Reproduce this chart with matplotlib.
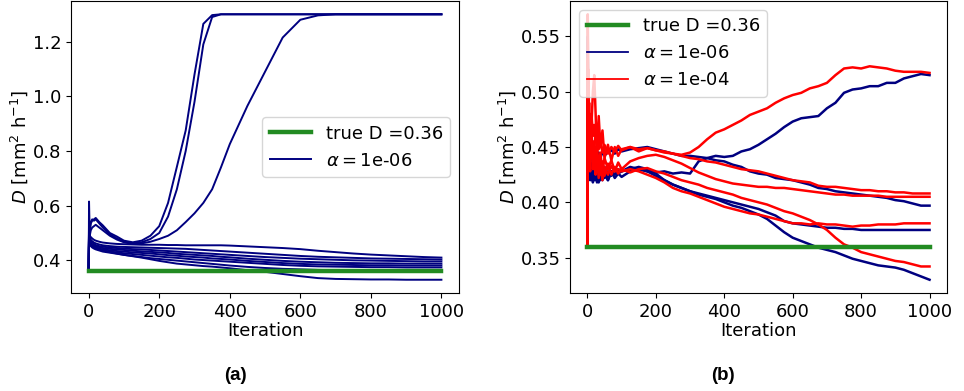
import matplotlib
matplotlib.use("Agg")
import matplotlib.pyplot as plt

# ---------------- data ----------------
true_D = 0.36
alpha_a = "1e-06"
alpha_b = "1e-04"

# panel (a): iterations and D estimates
iter_a = [0, 1, 3, 6, 10, 15, 20, 30, 40, 60, 80, 100, 125, 150, 175, 200, 225, 250,
          275, 300, 325, 350, 375, 400, 450, 500, 550, 600, 650, 700, 750, 800, 850,
          900, 950, 1000]

a_rise1 = [0.36, 0.52, 0.50, 0.535, 0.545, 0.55, 0.555, 0.54, 0.528, 0.50, 0.487, 0.472,
           0.466, 0.472, 0.49, 0.525, 0.61, 0.742, 0.875, 1.08, 1.265, 1.297, 1.30, 1.30,
           1.30, 1.30, 1.30, 1.30, 1.30, 1.30, 1.30, 1.30, 1.30, 1.30, 1.30, 1.30]
a_rise2 = [0.36, 0.55, 0.52, 0.54, 0.55, 0.545, 0.55, 0.535, 0.52, 0.495, 0.48, 0.468,
           0.462, 0.466, 0.478, 0.50, 0.56, 0.66, 0.80, 0.98, 1.19, 1.29, 1.30, 1.30,
           1.30, 1.30, 1.30, 1.30, 1.30, 1.30, 1.30, 1.30, 1.30, 1.30, 1.30, 1.30]
a_rise3 = [0.36, 0.50, 0.49, 0.51, 0.52, 0.525, 0.53, 0.52, 0.51, 0.49, 0.476, 0.466,
           0.46, 0.462, 0.468, 0.478, 0.49, 0.51, 0.54, 0.572, 0.61, 0.66, 0.74, 0.825,
           0.965, 1.09, 1.215, 1.28, 1.296, 1.30, 1.30, 1.30, 1.30, 1.30, 1.30, 1.30]
a_low1 = [0.36, 0.50, 0.49, 0.485, 0.48, 0.475, 0.472, 0.468, 0.465, 0.462, 0.46, 0.459,
          0.458, 0.457, 0.457, 0.457, 0.456, 0.456, 0.455, 0.455, 0.455, 0.455, 0.455, 0.454,
          0.451, 0.448, 0.445, 0.441, 0.435, 0.43, 0.425, 0.421, 0.418, 0.415, 0.412, 0.41]
a_low2 = [0.36, 0.615, 0.49, 0.475, 0.47, 0.465, 0.462, 0.458, 0.455, 0.452, 0.45, 0.449,
          0.448, 0.447, 0.446, 0.445, 0.444, 0.443, 0.442, 0.44, 0.438, 0.436, 0.434, 0.432,
          0.428, 0.424, 0.42, 0.416, 0.413, 0.411, 0.409, 0.407, 0.406, 0.405, 0.404, 0.403]
a_low3 = [0.36, 0.53, 0.48, 0.47, 0.465, 0.46, 0.456, 0.452, 0.45, 0.447, 0.445, 0.443,
          0.441, 0.44, 0.438, 0.436, 0.434, 0.432, 0.43, 0.428, 0.426, 0.424, 0.422, 0.42,
          0.416, 0.412, 0.409, 0.406, 0.404, 0.402, 0.40, 0.399, 0.398, 0.397, 0.396, 0.396]
a_low4 = [0.36, 0.49, 0.47, 0.462, 0.458, 0.455, 0.452, 0.448, 0.445, 0.442, 0.44, 0.438,
          0.435, 0.433, 0.431, 0.429, 0.427, 0.424, 0.422, 0.42, 0.418, 0.416, 0.413, 0.411,
          0.406, 0.402, 0.398, 0.395, 0.393, 0.391, 0.39, 0.389, 0.389, 0.388, 0.388, 0.388]
a_low5 = [0.36, 0.51, 0.47, 0.46, 0.455, 0.45, 0.447, 0.443, 0.44, 0.437, 0.434, 0.432,
          0.429, 0.427, 0.425, 0.422, 0.419, 0.417, 0.414, 0.412, 0.41, 0.407, 0.405, 0.403,
          0.398, 0.394, 0.39, 0.387, 0.385, 0.384, 0.383, 0.382, 0.382, 0.381, 0.381, 0.381]
a_low6 = [0.36, 0.48, 0.465, 0.455, 0.45, 0.446, 0.443, 0.439, 0.436, 0.432, 0.429, 0.426,
          0.423, 0.42, 0.417, 0.414, 0.411, 0.409, 0.406, 0.403, 0.401, 0.399, 0.397, 0.395,
          0.391, 0.387, 0.383, 0.38, 0.378, 0.377, 0.376, 0.375, 0.375, 0.374, 0.374, 0.374]
a_low7 = [0.36, 0.47, 0.46, 0.452, 0.447, 0.443, 0.44, 0.436, 0.432, 0.428, 0.424, 0.42,
          0.416, 0.412, 0.408, 0.405, 0.402, 0.399, 0.396, 0.393, 0.39, 0.387, 0.384, 0.381,
          0.376, 0.372, 0.369, 0.367, 0.365, 0.364, 0.363, 0.363, 0.362, 0.362, 0.362, 0.362]
a_low8 = [0.36, 0.50, 0.475, 0.462, 0.455, 0.45, 0.446, 0.44, 0.436, 0.43, 0.425, 0.42,
          0.415, 0.41, 0.404, 0.398, 0.393, 0.388, 0.385, 0.382, 0.379, 0.377, 0.374, 0.371,
          0.364, 0.358, 0.35, 0.342, 0.335, 0.332, 0.331, 0.33, 0.33, 0.329, 0.329, 0.329]

series_a = [a_rise1, a_rise2, a_rise3, a_low1, a_low2, a_low3, a_low4,
            a_low5, a_low6, a_low7, a_low8]

# panel (b)
iter_b = [0, 1, 3, 5, 8, 12, 16, 20, 24, 28, 33, 38, 44, 50, 60, 70, 80, 90,
          100, 125, 150, 175, 200, 225, 250, 275, 300, 325, 350, 375, 400, 425, 450,
          475, 500, 525, 550, 575, 600, 625, 650, 675, 700, 725, 750, 775, 800, 825,
          850, 875, 900, 925, 950, 975, 1000]

b_navy_A = [0.36, 0.55, 0.47, 0.44, 0.45, 0.46, 0.445, 0.45, 0.44, 0.445, 0.435, 0.44,
            0.425, 0.432, 0.42, 0.428, 0.422, 0.426,
            0.423, 0.428, 0.43, 0.428, 0.427, 0.428, 0.426, 0.427, 0.426, 0.437, 0.44,
            0.442, 0.441, 0.442, 0.446, 0.448, 0.452, 0.457, 0.462, 0.468, 0.473, 0.476,
            0.477, 0.478, 0.485, 0.49, 0.499, 0.502, 0.503, 0.505, 0.505, 0.508, 0.508,
            0.512, 0.514, 0.516, 0.515]
b_navy_B = [0.36, 0.52, 0.46, 0.45, 0.44, 0.445, 0.44, 0.442, 0.447, 0.44, 0.445, 0.44,
            0.446, 0.442, 0.446, 0.447, 0.444, 0.448,
            0.446, 0.448, 0.449, 0.45, 0.448, 0.446, 0.444, 0.442, 0.442, 0.441, 0.44,
            0.438, 0.437, 0.434, 0.432, 0.428, 0.426, 0.425, 0.422, 0.421, 0.42, 0.418,
            0.416, 0.413, 0.412, 0.41, 0.409, 0.408, 0.407, 0.406, 0.405, 0.404, 0.402,
            0.401, 0.399, 0.397, 0.397]
b_navy_D = [0.36, 0.50, 0.45, 0.43, 0.44, 0.425, 0.435, 0.42, 0.43, 0.418, 0.428, 0.42,
            0.43, 0.422, 0.428, 0.424, 0.43, 0.426,
            0.428, 0.43, 0.432, 0.43, 0.426, 0.42, 0.416, 0.413, 0.41, 0.408, 0.406,
            0.404, 0.402, 0.40, 0.398, 0.396, 0.394, 0.391, 0.388, 0.383, 0.381, 0.38,
            0.379, 0.378, 0.377, 0.377, 0.376, 0.376, 0.375, 0.375, 0.375, 0.375, 0.375,
            0.375, 0.375, 0.375, 0.375]
b_navy_E = [0.36, 0.49, 0.44, 0.43, 0.42, 0.435, 0.418, 0.43, 0.42, 0.425, 0.418, 0.428,
            0.42, 0.425, 0.42, 0.428, 0.425, 0.43,
            0.428, 0.432, 0.43, 0.428, 0.424, 0.42, 0.416, 0.413, 0.41, 0.407, 0.405,
            0.403, 0.40, 0.397, 0.395, 0.392, 0.389, 0.385, 0.379, 0.373, 0.368, 0.365,
            0.362, 0.359, 0.357, 0.355, 0.352, 0.349, 0.347, 0.345, 0.343, 0.342, 0.341,
            0.339, 0.336, 0.333, 0.330]

b_red_A = [0.36, 0.57, 0.50, 0.46, 0.428, 0.47, 0.50, 0.515, 0.48, 0.44, 0.478, 0.45,
           0.465, 0.44, 0.452, 0.438, 0.45, 0.442,
           0.448, 0.45, 0.446, 0.449, 0.447, 0.445, 0.444, 0.443, 0.445, 0.45, 0.457,
           0.463, 0.466, 0.47, 0.474, 0.479, 0.482, 0.485, 0.49, 0.494, 0.497, 0.499,
           0.503, 0.505, 0.508, 0.515, 0.521, 0.522, 0.521, 0.523, 0.522, 0.521, 0.519,
           0.518, 0.518, 0.518, 0.517]
b_red_B = [0.36, 0.50, 0.47, 0.49, 0.455, 0.48, 0.46, 0.47, 0.455, 0.462, 0.448, 0.455,
           0.445, 0.452, 0.444, 0.45, 0.446, 0.451,
           0.447, 0.45, 0.448, 0.449, 0.447, 0.446, 0.444, 0.442, 0.44, 0.439, 0.437,
           0.436, 0.434, 0.432, 0.43, 0.429, 0.428, 0.426, 0.424, 0.422, 0.42, 0.419,
           0.418, 0.415, 0.414, 0.414, 0.413, 0.412, 0.411, 0.411, 0.41, 0.41, 0.409,
           0.409, 0.408, 0.408, 0.408]
b_red_C = [0.36, 0.48, 0.52, 0.47, 0.45, 0.465, 0.44, 0.455, 0.435, 0.45, 0.43, 0.445,
           0.428, 0.44, 0.43, 0.438, 0.428, 0.436,
           0.43, 0.437, 0.44, 0.442, 0.443, 0.441, 0.438, 0.435, 0.431, 0.427, 0.424,
           0.421, 0.419, 0.417, 0.416, 0.415, 0.414, 0.414, 0.413, 0.413, 0.412, 0.411,
           0.41, 0.409, 0.408, 0.407, 0.407, 0.406, 0.406, 0.406, 0.406, 0.405, 0.405,
           0.405, 0.405, 0.405, 0.405]
b_red_D = [0.36, 0.53, 0.45, 0.48, 0.44, 0.46, 0.43, 0.445, 0.425, 0.44, 0.422, 0.435,
           0.42, 0.432, 0.425, 0.433, 0.428, 0.43,
           0.428, 0.43, 0.428, 0.425, 0.422, 0.418, 0.413, 0.41, 0.408, 0.405, 0.402,
           0.399, 0.396, 0.394, 0.392, 0.39, 0.389, 0.387, 0.385, 0.383, 0.381, 0.381,
           0.38, 0.381, 0.38, 0.38, 0.379, 0.378, 0.379, 0.379, 0.38, 0.38, 0.38,
           0.381, 0.381, 0.381, 0.381]
b_red_E = [0.36, 0.46, 0.49, 0.45, 0.47, 0.44, 0.455, 0.43, 0.45, 0.428, 0.44, 0.425,
           0.437, 0.424, 0.435, 0.425, 0.432, 0.426,
           0.43, 0.427, 0.43, 0.431, 0.428, 0.426, 0.423, 0.42, 0.418, 0.416, 0.413,
           0.411, 0.409, 0.407, 0.404, 0.402, 0.40, 0.398, 0.395, 0.392, 0.39, 0.387,
           0.384, 0.38, 0.375, 0.368, 0.362, 0.359, 0.355, 0.353, 0.351, 0.349, 0.347,
           0.346, 0.344, 0.342, 0.342]

navy_b = [b_navy_A, b_navy_B, b_navy_D, b_navy_E]
red_b = [b_red_A, b_red_B, b_red_C, b_red_D, b_red_E]

# ---------------- figure ----------------
FS = 13
plt.rcParams['font.size'] = FS
GREEN = 'forestgreen'
NAVY = 'navy'
RED = 'red'

fig = plt.figure(figsize=(9.64, 3.91), dpi=100)
ax1 = fig.add_axes([0.0737, 0.2506, 0.4025, 0.7468])
ax2 = fig.add_axes([0.5916, 0.2506, 0.3904, 0.7468])

# panel (a)
ax1.plot([iter_a[0], iter_a[-1]], [true_D, true_D], color=GREEN, lw=3.2,
         label=f"true D ={true_D}", zorder=3)
for i, s in enumerate(series_a):
    ax1.plot(iter_a, s, color=NAVY, lw=1.4,
             label=f"$\\alpha=${alpha_a}" if i == 0 else None)
ax1.set_xlabel("Iteration", fontsize=FS, labelpad=1)
ax1.set_ylabel("$D$ [mm$^2$ h$^{-1}$]", fontsize=FS, labelpad=2)
ax1.set_yticks([0.4, 0.6, 0.8, 1.0, 1.2])
ax1.set_xticks([0, 200, 400, 600, 800, 1000])
ax1.legend(loc="center right", fontsize=FS, handlelength=2.3)

# panel (b)
ax2.plot([iter_b[0], iter_b[-1]], [true_D, true_D], color=GREEN, lw=3.2,
         label=f"true D ={true_D}", zorder=3)
for i, s in enumerate(navy_b):
    ax2.plot(iter_b, s, color=NAVY, lw=1.8,
             label=f"$\\alpha=${alpha_a}" if i == 0 else None)
for i, s in enumerate(red_b):
    ax2.plot(iter_b, s, color=RED, lw=1.8,
             label=f"$\\alpha=${alpha_b}" if i == 0 else None)
ax2.set_xlabel("Iteration", fontsize=FS, labelpad=1)
ax2.set_ylabel("$D$ [mm$^2$ h$^{-1}$]", fontsize=FS, labelpad=2)
ax2.set_yticks([0.35, 0.40, 0.45, 0.50, 0.55])
ax2.set_xticks([0, 200, 400, 600, 800, 1000])
leg2 = ax2.legend(loc="upper left", fontsize=FS, handlelength=2.3)
for h in leg2.get_lines()[1:]:
    h.set_linewidth(1.3)

for ax in (ax1, ax2):
    ax.tick_params(labelsize=FS)

fig.text(0.244, 0.04, "(a)", ha="center", va="center", fontsize=13.5,
         fontweight="bold", family="Liberation Sans")
fig.text(0.750, 0.04, "(b)", ha="center", va="center", fontsize=13.5,
         fontweight="bold", family="Liberation Sans")

fig.savefig("out.png", dpi=100)
